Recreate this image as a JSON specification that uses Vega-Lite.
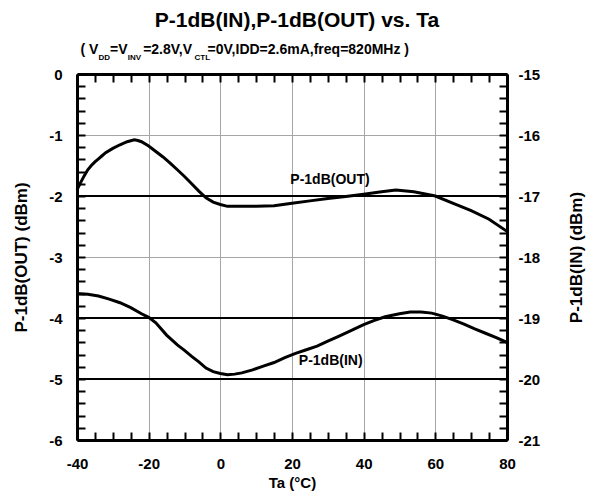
{
  "$schema": "https://vega.github.io/schema/vega-lite/v6.json",
  "width": 430,
  "height": 366,
  "autosize": {"type": "none"},
  "padding": {"left": 77, "top": 74, "right": 88, "bottom": 60},
  "config": {
    "font": "Liberation Sans",
    "view": {"stroke": null},
    "axis": {
      "labelFontSize": 15,
      "labelFontWeight": "bold",
      "labelColor": "black",
      "labelOverlap": false,
      "labelFlush": false,
      "titleFontWeight": "bold",
      "titleColor": "black",
      "tickSize": -8,
      "tickWidth": 2,
      "tickColor": "black",
      "domainWidth": 3,
      "domainColor": "black",
      "gridColor": "#a6a6a6",
      "gridWidth": 1
    }
  },
  "title": {
    "text": "P-1dB(IN),P-1dB(OUT) vs. Ta",
    "anchor": "middle",
    "dx": 5,
    "offset": 11,
    "fontSize": 21,
    "fontWeight": "bold",
    "color": "black"
  },
  "datasets": {
    "out": [
      {"t": -40, "v": -1.9},
      {"t": -39, "v": -1.78},
      {"t": -38, "v": -1.67},
      {"t": -37, "v": -1.57},
      {"t": -36, "v": -1.5},
      {"t": -35, "v": -1.44},
      {"t": -34, "v": -1.39},
      {"t": -33, "v": -1.34},
      {"t": -32, "v": -1.29},
      {"t": -30, "v": -1.22},
      {"t": -28, "v": -1.16},
      {"t": -26, "v": -1.11},
      {"t": -24, "v": -1.08},
      {"t": -23, "v": -1.09},
      {"t": -22, "v": -1.11},
      {"t": -20, "v": -1.18},
      {"t": -18, "v": -1.27},
      {"t": -16, "v": -1.36},
      {"t": -14, "v": -1.46},
      {"t": -12, "v": -1.57},
      {"t": -10, "v": -1.68},
      {"t": -8, "v": -1.8},
      {"t": -6, "v": -1.92},
      {"t": -4, "v": -2.03},
      {"t": -2, "v": -2.1},
      {"t": 0, "v": -2.14},
      {"t": 2, "v": -2.17},
      {"t": 5, "v": -2.17},
      {"t": 10, "v": -2.17},
      {"t": 15, "v": -2.16},
      {"t": 20, "v": -2.12},
      {"t": 25, "v": -2.08},
      {"t": 30, "v": -2.04},
      {"t": 35, "v": -2.01},
      {"t": 40, "v": -1.97},
      {"t": 45, "v": -1.93},
      {"t": 49, "v": -1.9},
      {"t": 54, "v": -1.93},
      {"t": 60, "v": -2.0},
      {"t": 65, "v": -2.12},
      {"t": 70, "v": -2.24},
      {"t": 75, "v": -2.38},
      {"t": 80, "v": -2.58}
    ],
    "inn": [
      {"t": -40, "v": -18.6},
      {"t": -37, "v": -18.61},
      {"t": -34, "v": -18.64},
      {"t": -31, "v": -18.69},
      {"t": -28, "v": -18.75},
      {"t": -25, "v": -18.83},
      {"t": -22, "v": -18.93},
      {"t": -20, "v": -18.99},
      {"t": -18, "v": -19.08},
      {"t": -15, "v": -19.28},
      {"t": -12, "v": -19.44},
      {"t": -10, "v": -19.53},
      {"t": -8, "v": -19.63},
      {"t": -6, "v": -19.72},
      {"t": -4, "v": -19.82},
      {"t": -2, "v": -19.88},
      {"t": 0, "v": -19.91},
      {"t": 2, "v": -19.93},
      {"t": 4, "v": -19.92},
      {"t": 6, "v": -19.9},
      {"t": 9, "v": -19.85},
      {"t": 12, "v": -19.79},
      {"t": 15, "v": -19.73},
      {"t": 18, "v": -19.65},
      {"t": 21, "v": -19.58},
      {"t": 24, "v": -19.52},
      {"t": 27, "v": -19.46},
      {"t": 30, "v": -19.38},
      {"t": 33, "v": -19.3},
      {"t": 36, "v": -19.22},
      {"t": 40, "v": -19.11},
      {"t": 43, "v": -19.04},
      {"t": 46, "v": -18.98},
      {"t": 50, "v": -18.93},
      {"t": 53, "v": -18.9},
      {"t": 56, "v": -18.9},
      {"t": 59, "v": -18.92},
      {"t": 62, "v": -18.97},
      {"t": 65, "v": -19.03},
      {"t": 68, "v": -19.1},
      {"t": 71, "v": -19.18},
      {"t": 74, "v": -19.25},
      {"t": 77, "v": -19.32},
      {"t": 80, "v": -19.4}
    ],
    "refs": [{"v": -2}, {"v": -4}, {"v": -5}],
    "labels": [
      {"t": 30.6, "v": -1.74, "label": "P-1dB(OUT)"},
      {"t": 30.8, "v": -4.7, "label": "P-1dB(IN)"}
    ]
  },
  "layer": [
    {
      "layer": [
        {
          "data": {"name": "out"},
          "mark": {"type": "line", "color": "black", "strokeWidth": 3},
          "encoding": {
            "x": {
              "field": "t",
              "type": "quantitative",
              "scale": {"domain": [-40, 80], "nice": false},
              "axis": {
                "orient": "bottom",
                "title": "Ta (°C)",
                "titleFontSize": 15,
                "titlePadding": 4,
                "values": [-40, -35, -30, -25, -20, -15, -10, -5, 0, 5, 10, 15, 20, 25, 30, 35, 40, 45, 50, 55, 60, 65, 70, 75, 80],
                "labelExpr": "datum.value % 20 === 0 ? '' + datum.value : ''",
                "labelPadding": 24,
                "grid": true,
                "gridOpacity": {"condition": {"test": "datum.value % 20 === 0", "value": 1}, "value": 0}
              }
            },
            "y": {
              "field": "v",
              "type": "quantitative",
              "scale": {"domain": [-6, 0], "nice": false},
              "axis": {
                "orient": "left",
                "title": "P-1dB(OUT) (dBm)",
                "titleFontSize": 17,
                "titlePadding": 18,
                "values": [-6, -5.8, -5.6, -5.4, -5.2, -5, -4.8, -4.6, -4.4, -4.2, -4, -3.8, -3.6, -3.4, -3.2, -3, -2.8, -2.6, -2.4, -2.2, -2, -1.8, -1.6, -1.4, -1.2, -1, -0.8, -0.6, -0.4, -0.2, 0],
                "labelExpr": "datum.value % 1 === 0 ? '' + datum.value : ''",
                "labelPadding": 23,
                "grid": true,
                "gridOpacity": {"condition": {"test": "datum.value % 1 === 0", "value": 1}, "value": 0}
              }
            }
          }
        },
        {
          "data": {"name": "refs"},
          "mark": {"type": "rule", "color": "black", "strokeWidth": 2},
          "encoding": {
            "y": {"field": "v", "type": "quantitative", "axis": null}
          }
        },
        {
          "data": {"name": "labels"},
          "mark": {"type": "text", "fontSize": 14, "fontWeight": "bold", "color": "black"},
          "encoding": {
            "x": {
              "field": "t",
              "type": "quantitative",
              "axis": {
                "orient": "top",
                "title": "( V\u00a0\u00a0\u00a0=V\u00a0\u00a0\u00a0\u00a0=2.8V,V\u00a0\u00a0\u00a0\u00a0=0V,IDD=2.6mA,freq=820MHz )",
                "titleFontSize": 14,
                "titleX": 3,
                "titleY": -21,
                "titleAlign": "left",
                "titleBaseline": "alphabetic",
                "values": [-40, -35, -30, -25, -20, -15, -10, -5, 0, 5, 10, 15, 20, 25, 30, 35, 40, 45, 50, 55, 60, 65, 70, 75, 80],
                "labels": false,
                "grid": false
              }
            },
            "y": {"field": "v", "type": "quantitative", "axis": null},
            "text": {"field": "label"}
          }
        }
      ],
      "resolve": {"axis": {"x": "independent", "y": "independent"}}
    },
    {
      "data": {"name": "inn"},
      "mark": {"type": "line", "color": "black", "strokeWidth": 3},
      "encoding": {
        "x": {
          "field": "t",
          "type": "quantitative",
          "axis": {
            "orient": "top",
            "title": "DD\u00a0\u00a0\u00a0\u00a0\u00a0\u00a0\u00a0\u00a0INV\u00a0\u00a0\u00a0\u00a0\u00a0\u00a0\u00a0\u00a0\u00a0\u00a0\u00a0\u00a0\u00a0\u00a0\u00a0\u00a0\u00a0\u00a0\u00a0\u00a0\u00a0\u00a0\u00a0\u00a0CTL",
            "titleFontSize": 8,
            "titleX": 21,
            "titleY": -15,
            "titleAlign": "left",
            "titleBaseline": "alphabetic",
            "ticks": false,
            "labels": false,
            "domain": false,
            "grid": false
          }
        },
        "y": {
          "field": "v",
          "type": "quantitative",
          "scale": {"domain": [-21, -15], "nice": false},
          "axis": {
            "orient": "right",
            "title": "P-1dB(IN) (dBm)",
            "titleFontSize": 17,
            "titleAngle": 270,
            "titlePadding": 46,
            "values": [-21, -20.8, -20.6, -20.4, -20.2, -20, -19.8, -19.6, -19.4, -19.2, -19, -18.8, -18.6, -18.4, -18.2, -18, -17.8, -17.6, -17.4, -17.2, -17, -16.8, -16.6, -16.4, -16.2, -16, -15.8, -15.6, -15.4, -15.2, -15],
            "labelExpr": "datum.value % 1 === 0 ? '' + datum.value : ''",
            "labelPadding": 19,
            "grid": false
          }
        }
      }
    }
  ],
  "resolve": {"scale": {"y": "independent"}, "axis": {"x": "independent", "y": "independent"}}
}
